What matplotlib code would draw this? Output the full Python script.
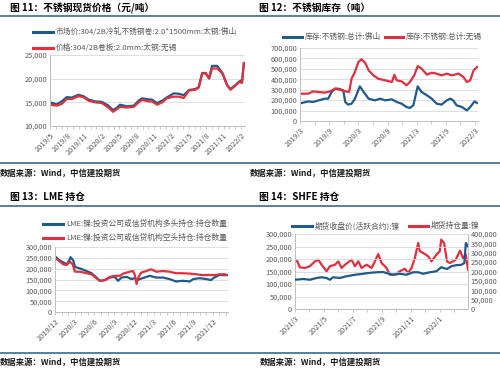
import matplotlib
matplotlib.use("Agg")
import matplotlib.pyplot as plt
from matplotlib.ticker import FuncFormatter, MultipleLocator
from matplotlib.lines import Line2D

plt.rcParams['font.family'] = ['Noto Sans CJK SC', 'DejaVu Sans']

# ---------------- data ----------------
# Panel 1: stainless spot price (x = months since 2019/5)
p1_labels = ["2019/5", "2019/8", "2019/11", "2020/2", "2020/5", "2020/8", "2020/11",
             "2021/2", "2021/5", "2021/8", "2021/11", "2022/2"]
p1_x = [0, 1.16, 2.02, 2.89, 3.76, 4.91, 5.78, 6.65, 7.8, 8.96, 10.1, 10.9, 11.6, 12.1,
        13.3, 14.5, 15.3, 15.9, 17.1, 17.6, 18.5, 19.4, 20.2, 21.4, 22.3, 23.1, 24.0,
        25.1, 25.7, 26.3, 26.9, 27.5, 28.0, 28.9, 29.8, 30.6, 31.2, 32.1, 32.7, 33.2, 33.5]
p1_foshan = [15000, 14600, 15200, 16100, 16000, 16600, 16300, 15600, 15200, 15100, 14300,
             13350, 13900, 14500, 14150, 14300, 15350, 15850, 15600, 15600, 14850, 15350,
             16050, 16900, 16800, 16500, 17600, 17800, 18200, 21200, 21200, 20100, 22700,
             22700, 21200, 18700, 17800, 18700, 19400, 19700, 23300]
p1_wuxi = [14500, 14300, 14650, 15700, 15700, 16300, 16100, 15350, 15000, 14850, 13900,
           13000, 13600, 14050, 13900, 14050, 15000, 15500, 15200, 15200, 14500, 15000,
           15850, 16200, 16200, 15900, 17500, 17650, 18100, 21100, 21100, 20000, 22150,
           22150, 21100, 18600, 17650, 18600, 19300, 19100, 23200]

# Panel 2: stainless inventory (x = months since 2019/3), thousands of tonnes
p2_labels = ["2019/3", "2019/9", "2020/3", "2020/9", "2021/3", "2021/9", "2022/3"]
p2_x_fs = [0.3, 1.7, 2.7, 3.8, 5.1, 5.8, 6.5, 7.2, 7.9, 8.9, 9.3, 9.9, 10.6, 11.3, 12.3,
           13.0, 14.1, 15.4, 16.5, 17.5, 18.9, 19.9, 20.9, 21.9, 22.6, 23.3, 24.2, 25.0,
           26.1, 27.1, 28.1, 29.1, 30.2, 30.9, 31.5, 32.2, 33.3, 34.3, 35.0, 35.9, 36.4]
p2_foshan = [172, 188, 182, 198, 214, 214, 278, 310, 310, 294, 182, 157, 166, 214, 332,
             284, 214, 198, 214, 198, 208, 182, 166, 134, 125, 150, 332, 278, 246, 214,
             166, 157, 198, 214, 198, 150, 134, 102, 134, 188, 172]
p2_x_wx = [0.3, 1.7, 2.7, 3.8, 5.1, 6.2, 7.2, 8.2, 9.3, 10.1, 10.6, 11.3, 12.0, 12.6, 13.4,
           14.1, 15.1, 16.1, 17.5, 18.9, 19.4, 19.9, 20.9, 21.9, 22.6, 23.5, 24.2, 25.0,
           26.1, 27.1, 28.1, 29.1, 30.2, 31.2, 32.6, 33.6, 34.3, 35.0, 35.7, 36.4]
p2_wuxi = [262, 262, 284, 278, 272, 284, 310, 300, 284, 278, 405, 470, 565, 591, 559, 486,
           438, 405, 390, 374, 444, 390, 380, 342, 374, 438, 527, 502, 444, 463, 454, 438,
           454, 438, 454, 422, 374, 390, 486, 518]

# Panel 3: LME positions (x = months since 2019/12), thousands
p3_labels = ["2019/12", "2020/3", "2020/6", "2020/9", "2020/12", "2021/3", "2021/6",
             "2021/9", "2021/12"]
p3_x_long = [0, 0.5, 1.26, 1.77, 2.17, 2.37, 2.78, 3.03, 3.79, 4.8, 5.56, 6.31, 6.82, 7.58,
             8.33, 9.09, 9.6, 10.1, 10.9, 11.6, 12.1, 12.5, 12.9, 13.6, 14.4, 15.4, 16.4,
             17.4, 18.4, 19.4, 20.5, 21.0, 22.0, 23.0, 23.7, 24.2, 25.0, 25.8, 26.3]
p3_long = [258, 242, 229, 220, 238, 253, 238, 208, 201, 189, 179, 159, 144, 147, 159, 162,
           144, 159, 162, 152, 156, 147, 152, 159, 167, 159, 159, 152, 141, 144, 141, 152,
           156, 152, 147, 159, 171, 170, 170]
p3_x_short = [0, 0.5, 1.26, 1.77, 2.27, 2.68, 3.03, 3.79, 4.8, 5.56, 6.31, 6.82, 7.58, 8.33,
              9.09, 9.85, 10.35, 11.36, 11.87, 12.1, 12.4, 12.6, 13.1, 13.9, 14.6, 15.4,
              16.4, 17.4, 18.4, 19.4, 20.5, 21.5, 22.5, 23.5, 24.2, 25.0, 25.8, 26.3]
p3_short = [250, 239, 220, 217, 232, 220, 186, 186, 179, 174, 155, 144, 147, 162, 167, 167,
            177, 186, 189, 174, 129, 156, 182, 189, 197, 186, 189, 186, 179, 179, 177, 174,
            170, 171, 170, 174, 174, 170]

# Panel 4: SHFE (x = months since 2021/3), thousands
p4_labels = ["2021/3", "2021/5", "2021/7", "2021/9", "2021/11", "2022/1"]
p4_x_price = [0, 0.57, 1.03, 1.49, 1.84, 2.18, 2.41, 2.64, 3.1, 3.56, 4.14, 4.6, 5.06, 5.63,
              6.09, 6.55, 6.78, 7.24, 7.7, 8.16, 8.51, 8.85, 9.31, 9.77, 10.1, 10.5, 10.8,
              11.1, 11.5, 11.7, 11.8, 11.95]
p4_price = [117, 120, 117, 124, 127, 124, 117, 127, 124, 131, 137, 140, 144, 147, 148, 140,
            137, 141, 137, 147, 147, 141, 147, 151, 167, 160, 171, 175, 177, 184, 264, 251]
p4_x_oi = [0, 0.16, 0.34, 0.69, 1.03, 1.38, 1.61, 1.84, 2.18, 2.41, 2.76, 2.99, 3.22, 3.45,
           3.91, 4.14, 4.37, 4.6, 4.94, 5.29, 5.52, 5.75, 5.98, 6.32, 6.55, 6.9, 7.24, 7.59,
           7.82, 8.05, 8.28, 8.51, 8.62, 8.85, 9.2, 9.43, 9.77, 10.0, 10.1, 10.3, 10.5, 10.7,
           11.1, 11.4, 11.6, 11.8, 11.95]
p4_oi = [263, 254, 222, 219, 228, 254, 263, 236, 201, 228, 236, 254, 219, 236, 263, 228, 254,
         219, 236, 219, 254, 293, 245, 219, 183, 183, 201, 215, 192, 219, 272, 352, 308, 299,
         281, 254, 290, 308, 370, 352, 254, 245, 263, 311, 272, 290, 210]

titles = ["图 11：不锈钢现货价格（元/吨）", "图 12：不锈钢库存（吨）",
          "图 13：LME 持仓", "图 14：SHFE 持仓"]
leg1 = ["市场价:304/2B冷轧不锈钢卷:2.0*1500mm:太钢:佛山", "价格:304/2B卷板:2.0mm:太钢:无锡"]
leg2 = ["库存:不锈钢:总计:佛山", "库存:不锈钢:总计:无锡"]
leg3 = ["LME:镍:投资公司或信贷机构多头持仓:持仓数量", "LME:镍:投资公司或信贷机构空头持仓:持仓数量"]
leg4 = ["期货收盘价(活跃合约):镍", "期货持仓量:镍"]
source = "数据来源：Wind，中信建投期货"

# ---------------- style ----------------
W, H = 500, 370
BLUE = '#1F5A8A'
RED = '#E0303F'
HEAD = '#2A5F7E'
GRAY = '#595959'
GRID = '#D9D9D9'
TFS = 5.3
LFS = 5.6

fig = plt.figure(figsize=(W / 100, H / 100), dpi=100)


def ax_px(l, r, t, b):
    return fig.add_axes([l / W, 1 - b / H, (r - l) / W, (b - t) / H])


def fy(py):
    return 1 - py / H


def fx(px):
    return px / W


def comma(v, pos):
    return f"{int(round(v)):,}"


def style(ax, xlabels, step, xmax, minor):
    for s in ['top', 'right']:
        ax.spines[s].set_visible(False)
    ax.spines['left'].set_color('#BFBFBF')
    ax.spines['bottom'].set_color('#BFBFBF')
    ax.spines['left'].set_linewidth(0.7)
    ax.spines['bottom'].set_linewidth(0.7)
    ax.grid(axis='y', color=GRID, linewidth=0.6)
    ax.set_axisbelow(True)
    ax.set_xlim(0, xmax)
    ax.set_xticks([i * step for i in range(len(xlabels))])
    ax.set_xticklabels(xlabels, rotation=45, ha='right', rotation_mode='anchor',
                       fontsize=TFS, color=GRAY)
    ax.xaxis.set_minor_locator(MultipleLocator(minor))
    ax.tick_params(axis='x', which='both', length=2.5, color='#BFBFBF', width=0.6, pad=1.5)
    ax.tick_params(axis='y', length=0, labelsize=TFS, labelcolor=GRAY, pad=2)
    ax.yaxis.set_major_formatter(FuncFormatter(comma))


def legend_line(x0, x1, y, color, text):
    fig.add_artist(Line2D([fx(x0), fx(x1)], [fy(y), fy(y)], color=color, linewidth=2.2,
                          transform=fig.transFigure))
    fig.text(fx(x1 + 3), fy(y), text, fontsize=LFS, color=GRAY, va='center', ha='left')


# header / footer rules and texts
for y in (15.5, 163, 206, 353):
    fig.add_artist(Line2D([0, 1], [fy(y), fy(y)], color=HEAD, linewidth=1.1,
                          transform=fig.transFigure))

fig.text(fx(10), fy(8), titles[0], fontsize=7, fontweight='bold', va='center')
fig.text(fx(259), fy(8), titles[1], fontsize=7, fontweight='bold', va='center')
fig.text(fx(10), fy(197), titles[2], fontsize=7, fontweight='bold', va='center')
fig.text(fx(259), fy(197), titles[3], fontsize=7, fontweight='bold', va='center')

for (x, y) in [(0, 173), (250, 173), (0, 362), (260, 362)]:
    fig.text(fx(x), fy(y), source, fontsize=6.0, fontweight='bold', style='italic',
             va='center', color='#1a1a1a')

# ---------------- panel 1 ----------------
ax1 = ax_px(50, 245, 55, 126)
ax1.plot(p1_x, p1_foshan, color=BLUE, linewidth=1.6)
ax1.plot(p1_x, p1_wuxi, color=RED, linewidth=1.6)
ax1.set_ylim(10000, 25000)
ax1.set_yticks([10000, 15000, 20000, 25000])
style(ax1, p1_labels, 3, 33.7, 1)
legend_line(33, 53, 32, BLUE, leg1[0])
legend_line(33, 53, 48, RED, leg1[1])

# ---------------- panel 2 ----------------
ax2 = ax_px(300, 478, 48, 121)
ax2.plot(p2_x_fs, [v * 1000 for v in p2_foshan], color=BLUE, linewidth=1.6)
ax2.plot(p2_x_wx, [v * 1000 for v in p2_wuxi], color=RED, linewidth=1.6)
ax2.set_ylim(0, 700000)
ax2.set_yticks(range(0, 700001, 100000))
style(ax2, p2_labels, 6, 36.6, 3)
legend_line(283, 302, 37, BLUE, leg2[0])
legend_line(385, 403, 37, RED, leg2[1])

# ---------------- panel 3 ----------------
ax3 = ax_px(55, 228, 247, 312)
ax3.plot(p3_x_long, [v * 1000 for v in p3_long], color=BLUE, linewidth=1.6)
ax3.plot(p3_x_short, [v * 1000 for v in p3_short], color=RED, linewidth=1.6)
ax3.set_ylim(0, 300000)
ax3.set_yticks(range(0, 300001, 50000))
style(ax3, p3_labels, 3, 26.3, 1)
legend_line(43, 63, 224, BLUE, leg3[0])
legend_line(43, 63, 238, RED, leg3[1])

# ---------------- panel 4 ----------------
ax4 = ax_px(295, 468, 234, 309)
ax4.plot(p4_x_price, [v * 1000 for v in p4_price], color=BLUE, linewidth=1.6, zorder=3)
ax4.set_ylim(0, 300000)
ax4.set_yticks(range(0, 300001, 50000))
style(ax4, p4_labels, 2, 11.95, 1)
ax4b = ax4.twinx()
ax4b.plot(p4_x_oi, [v * 1000 for v in p4_oi], color=RED, linewidth=1.6)
ax4b.set_ylim(0, 400000)
ax4b.set_yticks(range(0, 400001, 50000))
ax4b.yaxis.set_major_formatter(FuncFormatter(comma))
ax4b.tick_params(axis='y', length=0, labelsize=TFS, labelcolor=GRAY, pad=2)
for s in ['top', 'left', 'bottom']:
    ax4b.spines[s].set_visible(False)
ax4b.spines['right'].set_color('#BFBFBF')
ax4b.spines['right'].set_linewidth(0.7)
ax4.set_zorder(ax4b.get_zorder() + 1)
ax4.patch.set_visible(False)
legend_line(292, 312, 226, BLUE, leg4[0])
legend_line(409, 428, 226, RED, leg4[1])

fig.savefig("out.png", dpi=100)
